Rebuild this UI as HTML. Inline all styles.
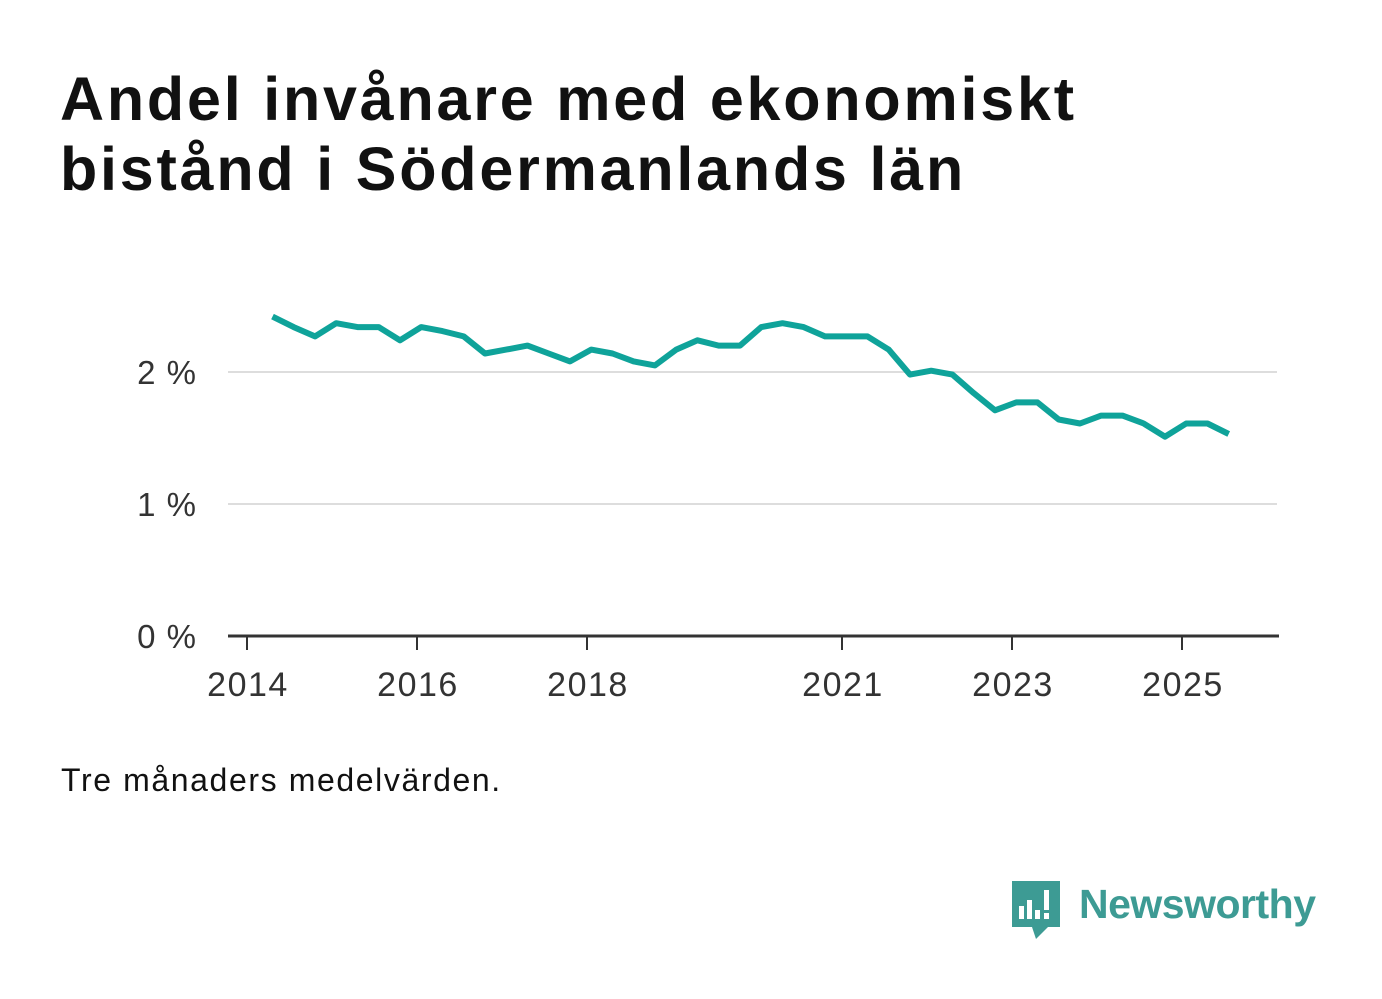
<!DOCTYPE html>
<html><head><meta charset="utf-8"><style>
body{margin:0;background:#fff;width:1382px;height:999px;overflow:hidden;font-family:"Liberation Sans",sans-serif}
h1{position:absolute;left:60px;top:64px;margin:0;font-size:61px;line-height:70px;font-weight:bold;color:#111;letter-spacing:2.8px}
.note{position:absolute;left:61px;top:762px;font-size:32px;color:#111;letter-spacing:1.6px}
svg{position:absolute;left:0;top:0}
</style></head><body>
<h1>Andel invånare med ekonomiskt<br>bistånd i Södermanlands län</h1>
<div class="note">Tre månaders medelvärden.</div>
<svg id="c" width="1382" height="999"></svg>
<script>
const yTicks=[0,1,2];
const yTickLabels=["0 %","1 %","2 %"];
const xTicks=[2014,2016,2018,2021,2023,2025];
const startYear=2014.3;
const step=0.25;
const values=[2.42,2.34,2.27,2.37,2.34,2.34,2.24,2.34,2.31,2.27,2.14,2.17,2.20,2.14,2.08,2.17,2.14,2.08,2.05,2.17,2.24,2.20,2.20,2.34,2.37,2.34,2.27,2.27,2.27,2.17,1.98,2.01,1.98,1.84,1.71,1.77,1.77,1.64,1.61,1.67,1.67,1.61,1.51,1.61,1.61,1.53];
const NS="http://www.w3.org/2000/svg";
const svg=document.getElementById('c');
const X=y=>247+(y-2014)*85;
const Y=v=>636-v*132;
function mk(t,a){const e=document.createElementNS(NS,t);for(const k in a)e.setAttribute(k,a[k]);svg.appendChild(e);return e;}
yTicks.forEach((v,i)=>{
 if(v>0){const g=mk('line',{x1:228,x2:1277,y1:Y(v),y2:Y(v),stroke:'#ddd','stroke-width':2});
 
 }
 const t=mk('text',{x:197,y:Y(v)+12,'text-anchor':'end','font-size':33,'letter-spacing':1,fill:'#333','font-family':'Liberation Sans, sans-serif'});
 t.textContent=yTickLabels[i];
 
 
});
const ax=mk('line',{x1:228,x2:1279,y1:636,y2:636,stroke:'#333','stroke-width':3});


xTicks.forEach(yr=>{
 const tk=mk('line',{x1:X(yr),x2:X(yr),y1:636,y2:650,stroke:'#333','stroke-width':2});
 
 
 const t=mk('text',{x:X(yr)+1,y:696,'text-anchor':'middle','font-size':34,'letter-spacing':1.5,fill:'#333','font-family':'Liberation Sans, sans-serif'});
 t.textContent=yr;
 
 
});
const pts=values.map((v,i)=>X(startYear+i*step).toFixed(1)+','+Y(v).toFixed(1)).join(' ');
const l=mk('polyline',{points:pts,fill:'none',stroke:'#0fa39a','stroke-width':6,'stroke-linejoin':'round'});


</script>
<svg width="1382" height="999" style="pointer-events:none">
<path d="M1012 881h48v46h-12l-12 12l-4-12h-20z" fill="#3d9b94"/>
<rect x="1019" y="906" width="5" height="13" fill="#fff"/><rect x="1027" y="900" width="5" height="19" fill="#fff"/><rect x="1035" y="910" width="5" height="9" fill="#fff"/><rect x="1044" y="890" width="5" height="20" fill="#fff"/><rect x="1044" y="913" width="5" height="6" fill="#fff"/>
<text x="1079" y="918" font-size="41" font-weight="bold" fill="#3d9b94" font-family="Liberation Sans, sans-serif" textLength="237">Newsworthy</text>
</svg>
</body></html>
